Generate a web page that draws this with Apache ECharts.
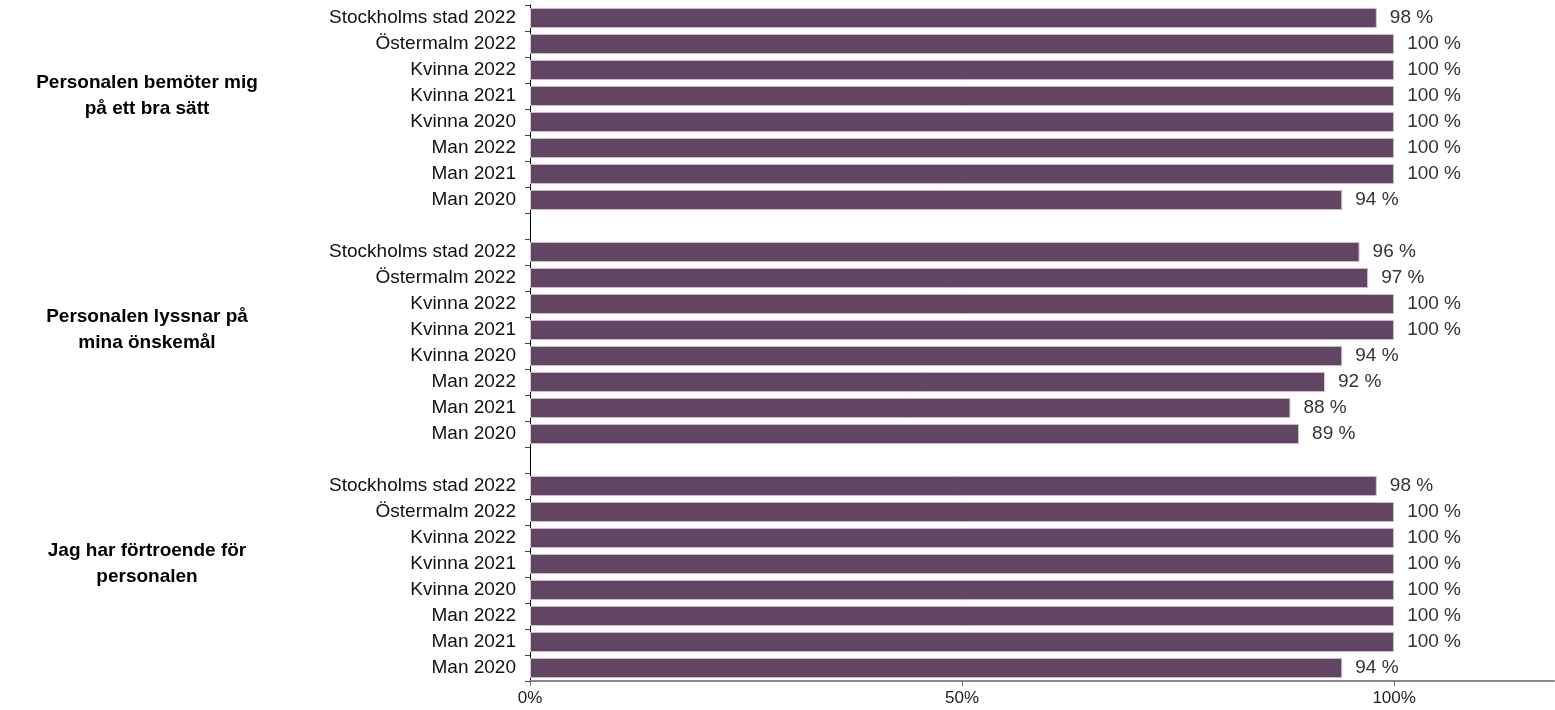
<!DOCTYPE html>
<html>
<head>
<meta charset="utf-8">
<script src="https://cdn.jsdelivr.net/npm/echarts@6/dist/echarts.min.js"></script>
<style>
html,body{margin:0;padding:0;background:#fff;}
#chart{width:1555px;height:710px;}
</style>
</head>
<body>
<div id="chart"></div>
<script>
const groups = [
  'Personalen bemöter mig\npå ett bra sätt',
  'Personalen lyssnar på\nmina önskemål',
  'Jag har förtroende för\npersonalen'
];
const rowLabels = ['Stockholms stad 2022','Östermalm 2022','Kvinna 2022','Kvinna 2021','Kvinna 2020','Man 2022','Man 2021','Man 2020'];
const group1Values = [98,100,100,100,100,100,100,94];
const group2Values = [96,97,100,100,94,92,88,89];
const group3Values = [98,100,100,100,100,100,100,94];
const xTicks = [0,50,100];

const categories = [];
const values = [];
[group1Values, group2Values, group3Values].forEach((g, gi) => {
  if (gi > 0) { categories.push(''); values.push('-'); }
  rowLabels.forEach((r, i) => { categories.push(r); values.push(g[i]); });
});

const chart = echarts.init(document.getElementById('chart'));
const gridTop = 5, gridBottom = 29, rowH = (710 - gridTop - gridBottom) / categories.length;
const FONT = '"Liberation Sans", Arial, sans-serif';

chart.setOption({
  animation: false,
  grid: { left: 530, right: 1, top: gridTop, bottom: gridBottom, containLabel: false },
  xAxis: {
    type: 'value', min: 0, max: 118.5,
    splitLine: { show: false },
    axisLine: { show: true, lineStyle: { color: '#888', width: 2 } },
    axisTick: { show: true, length: 5, customValues: xTicks, lineStyle: { color: '#666' } },
    axisLabel: { customValues: xTicks, formatter: v => v + '%', color: '#222', fontSize: 17, fontFamily: FONT, margin: 9 }
  },
  yAxis: {
    type: 'category', inverse: true, data: categories,
    axisLine: { show: true, lineStyle: { color: '#000', width: 1 } },
    axisTick: { show: true, length: 5, interval: 0, lineStyle: { color: '#444' } },
    axisLabel: { interval: 0, color: '#111', fontSize: 19, fontFamily: FONT, margin: 14 }
  },
  series: [{
    type: 'bar',
    data: values,
    barCategoryGap: '22%',
    itemStyle: { color: '#624563', borderColor: '#d8c6d6', borderWidth: 1 },
    label: { show: true, position: 'right', distance: 13, formatter: p => p.value + ' %', color: '#333', fontSize: 19, fontFamily: FONT }
  }],
  graphic: groups.map((t, gi) => {
    const centerY = gridTop + (gi * 9 + 4) * rowH - 13;
    return {
      type: 'text',
      x: 147, y: centerY,
      style: {
        text: t, textAlign: 'center', textVerticalAlign: 'middle',
        font: 'bold 19px ' + FONT, fill: '#000', lineHeight: 26
      }
    };
  })
});
</script>
</body>
</html>
